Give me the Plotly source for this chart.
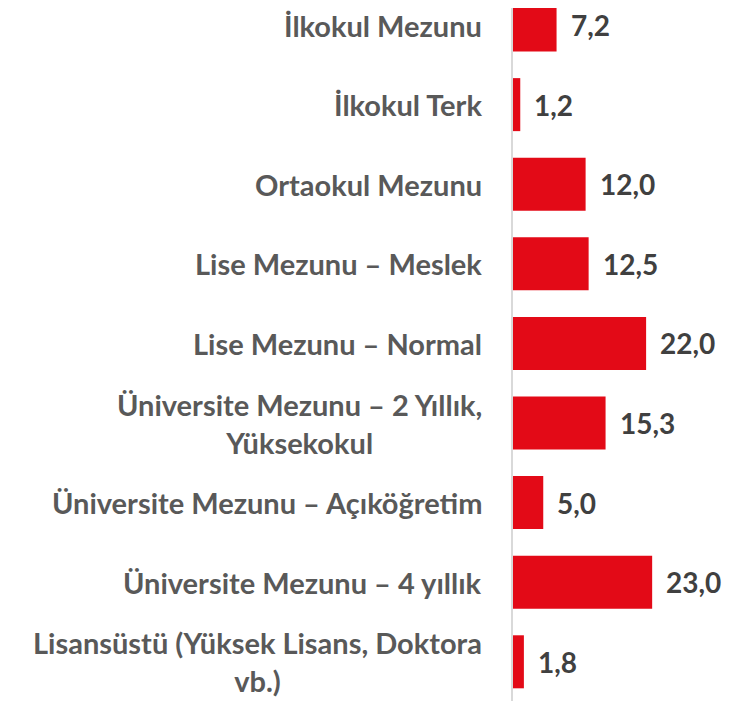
import plotly.graph_objects as go

categories = [
    "İlkokul Mezunu",
    "İlkokul Terk",
    "Ortaokul Mezunu",
    "Lise Mezunu – Meslek",
    "Lise Mezunu – Normal",
    "Üniversite Mezunu – 2 Yıllık,<br>Yüksekokul",
    "Üniversite Mezunu – Açıköğretim",
    "Üniversite Mezunu – 4 yıllık",
    "Lisansüstü (Yüksek Lisans, Doktora<br>vb.)",
]
values = [7.2, 1.2, 12.0, 12.5, 22.0, 15.3, 5.0, 23.0, 1.8]

RED = "#E30A17"
LABEL = "#595959"
VALUE = "#404040"
FONT = "Lato"

fig = go.Figure(go.Bar(
    x=values, y=categories, orientation="h",
    marker=dict(color=RED, line=dict(width=0)),
    hoverinfo="skip",
))

for c, v in zip(categories, values):
    # value label right of the bar
    fig.add_annotation(x=v, y=c, text=f"{v:.1f}".replace(".", ","),
                       xanchor="left", xshift=12, showarrow=False,
                       font=dict(family=FONT, size=28, color=VALUE, weight="bold"))
    # category label, lines centred like the original
    fig.add_annotation(x=0, xref="paper", y=c, text=c, align="center",
                       xanchor="right", xshift=-29, showarrow=False,
                       font=dict(family=FONT, size=29, color=LABEL, weight="bold"))

fig.update_layout(
    width=744, height=701,
    paper_bgcolor="white", plot_bgcolor="white",
    margin=dict(l=505, r=0, t=0, b=0),
    bargap=0.334, showlegend=False,
    font=dict(family=FONT),
)
fig.update_xaxes(range=[0, 39.5], visible=False)
fig.update_yaxes(
    range=[8.593, -0.214], showgrid=False, zeroline=False,
    showline=True, linecolor="#D9D9D9", linewidth=2,
    showticklabels=False, automargin=False,
)

fig.write_html("out.html")
